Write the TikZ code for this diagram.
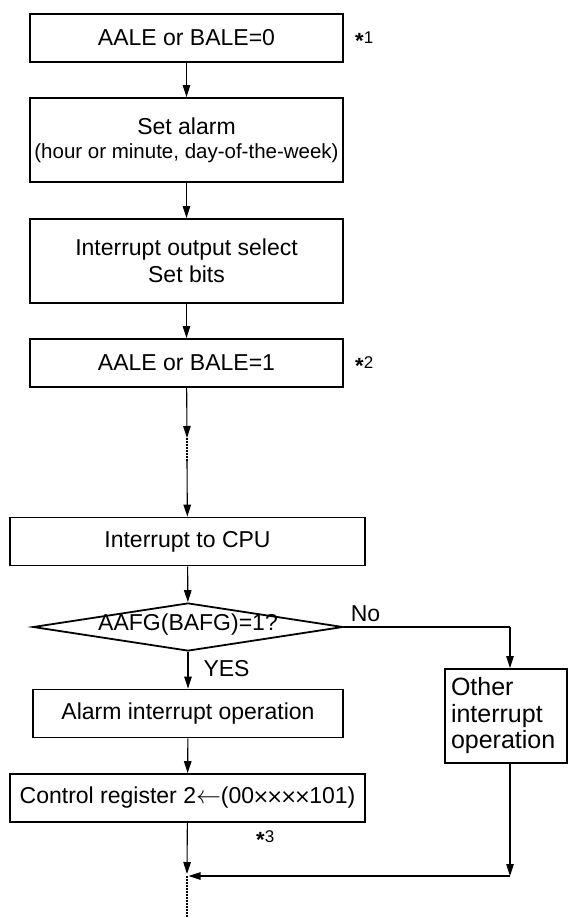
\documentclass[tikz,border=0pt]{standalone}
\usepackage{fontspec}
\setmainfont{Liberation Sans}
\newfontfamily\symfont{DejaVu Sans}
\usetikzlibrary{arrows.meta,shapes.geometric}
\newcommand{\starref}[1]{{\raisebox{-5.5pt}{\fontsize{22}{24}\selectfont\bfseries *}\fontsize{17}{20}\selectfont#1}}
\newcommand{\crs}{\kern-1.5pt{\symfont\fontsize{20}{20}\selectfont ×}\kern-1.5pt}

\tikzset{
  box/.style={draw,line width=1.8pt,inner sep=0pt,minimum width=313pt,minimum height=48pt,
    font=\fontsize{23}{27}\selectfont},
  decision/.style={draw,diamond,line width=1.8pt,inner sep=0pt,shape aspect=6.4,
    minimum width=310pt,minimum height=48pt,text height=9pt,text depth=3pt,
    font=\fontsize{23}{27}\selectfont},
  flow/.style={line width=1.1pt,-{Triangle[length=12pt,width=7.5pt]}},
  plain/.style={line width=1.1pt},
  dots/.style={line width=1.1pt,dash pattern=on 1.5pt off 1.5pt},
  tag/.style={inner sep=0pt,font=\fontsize{23}{27}\selectfont}
}

\begin{document}
\begin{tikzpicture}[x=1pt,y=-1pt]
\useasboundingbox (0,0) rectangle (568,918);
% main column
\node[box] (aale0) at (186.5,38) {AALE or BALE=0};
\node[box,minimum height=84pt,align=center] (setal) at (186.5,140)
  {Set alarm\\[-3pt]{\fontsize{20.5}{24}\selectfont(hour or minute, day-of-the-week)}};
\node[box,minimum height=84pt,align=center] (intsel) at (186.5,261) {Interrupt output select\\Set bits};
\node[box] (aale1) at (186.5,363) {AALE or BALE=1};
\node[box,minimum width=355pt] (cpu) at (187.5,541.5) {Interrupt to CPU};
\node[decision] (chk) at (188,627) {AAFG(BAFG)=1?};
\node[box,minimum width=310pt] (alarm) at (188,713.5) {Alarm interrupt operation};
\node[box,minimum width=355pt] (ctrl) at (187.5,798)
  {Control register 2$\leftarrow$(00\crs\crs\crs\crs101)};
\node[box,minimum width=122pt,minimum height=94pt,text width=110pt,align=left,
  font=\fontsize{25}{26.5}\selectfont] (oth) at (506,716) {Other\\interrupt\\operation};
% notes
\node[anchor=west,inner sep=0pt] (n1) at (355,40) {\starref{1}};
\node[anchor=west,inner sep=0pt] (n2) at (355,365) {\starref{2}};
\node[anchor=west,inner sep=0pt] (n3) at (256,839) {\starref{3}};
% connectors
\coordinate (g1) at (187,438);
\coordinate (g2) at (187,461);
\coordinate (nr) at (510,627);
\coordinate (jn) at (187,876);
\coordinate (jr) at (510,876);
\draw[flow] (aale0) -- (setal);
\draw[flow] (setal) -- (intsel);
\draw[flow] (intsel) -- (aale1);
\draw[flow] (aale1) -- (g1);
\draw[dots] (g1) -- (g2);
\draw[flow] (g2) -- (cpu);
\draw[flow] (cpu) -- (chk);
\draw[flow] (chk.south) -- (alarm) node[tag,pos=0.45,right=15pt] (yes) {YES};
\draw[plain] (chk.east) -- (nr) node[tag,pos=0.13,above=5pt] (no) {No};
\draw[flow] (nr) -- (nr |- oth.north);
\draw[flow] (alarm) -- (ctrl);
\draw[flow,shorten >=2pt] (ctrl) -- (jn);
\draw[flow] (oth.south -| jr) -- (jr);
\draw[flow,shorten >=1.5pt] (jr) -- (jn);
\draw[dots] (jn) -- (187,918);
\end{tikzpicture}
\end{document}
